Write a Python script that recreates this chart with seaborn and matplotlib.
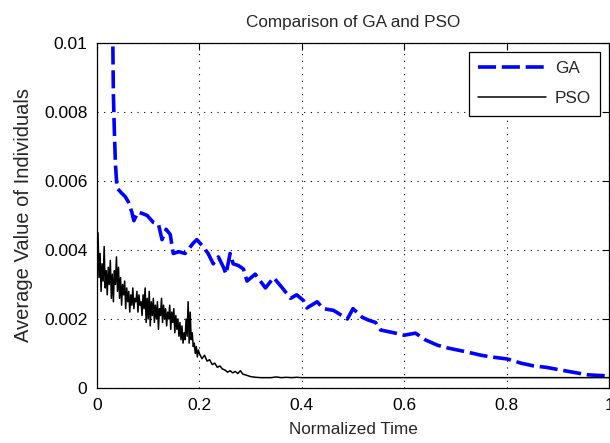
import numpy as np
import pandas as pd
import matplotlib
matplotlib.use("Agg")
import matplotlib.pyplot as plt
import seaborn as sns

# --- DATA (y values in units of 0.001) ---
ga_x = [0.031, 0.032, 0.034, 0.036, 0.039, 0.048, 0.055, 0.061, 0.068, 0.072,
        0.080, 0.090, 0.098, 0.110, 0.120, 0.127, 0.135, 0.143, 0.149, 0.160,
        0.172, 0.188, 0.195, 0.207, 0.217, 0.227, 0.237, 0.247, 0.252, 0.260,
        0.266, 0.276, 0.286, 0.293, 0.309, 0.329, 0.345, 0.362, 0.378, 0.390,
        0.403, 0.410, 0.430, 0.442, 0.462, 0.489, 0.500, 0.518, 0.530, 0.544,
        0.554, 0.580, 0.600, 0.622, 0.642, 0.665, 0.685, 0.724, 0.750, 0.770,
        0.802, 0.828, 0.853, 0.877, 0.906, 0.940, 0.960, 1.000]
ga_y = [9.9, 8.5, 7.4, 6.5, 5.8, 5.65, 5.55, 5.4, 5.1, 4.85,
        5.1, 5.05, 5.0, 4.8, 4.75, 4.3, 4.6, 4.45, 3.9, 3.95,
        3.9, 4.2, 4.3, 4.1, 3.9, 3.6, 3.8, 3.5, 3.3, 3.9,
        3.6, 3.55, 3.45, 3.1, 3.3, 2.9, 3.2, 2.9, 2.6, 2.7,
        2.54, 2.32, 2.5, 2.3, 2.25, 2.0, 2.3, 2.05, 1.97, 1.9,
        1.68, 1.6, 1.53, 1.59, 1.39, 1.24, 1.16, 1.04, 0.95, 0.9,
        0.84, 0.72, 0.64, 0.6, 0.52, 0.43, 0.38, 0.35]

# PSO: noisy part sampled every 0.002 from 0 to 0.2
pso_noisy = [3.0, 4.5, 3.2, 3.9, 2.8, 3.6, 3.1, 4.1, 2.9, 3.4,
             2.7, 3.5, 3.0, 3.7, 2.6, 3.3, 2.5, 3.4, 3.0, 3.8,
             2.8, 3.5, 2.6, 3.2, 2.4, 3.0, 2.7, 3.1, 2.3, 2.9,
             2.5, 2.8, 2.2, 2.7, 2.4, 2.9, 2.3, 2.6, 2.5, 2.8,
             2.2, 2.7, 2.4, 2.5, 2.1, 2.7, 2.3, 2.9, 1.9, 2.6,
             2.0, 2.8, 1.8, 2.5, 2.1, 2.6, 1.9, 2.4, 2.0, 2.5,
             1.7, 2.3, 2.1, 2.6, 1.9, 2.4, 2.0, 2.3, 1.8, 2.2,
             2.0, 2.4, 1.7, 2.2, 1.9, 2.3, 1.6, 2.1, 1.7, 2.0,
             1.5, 1.9, 1.4, 1.8, 1.3, 1.6, 1.4, 2.0, 1.5, 2.5,
             1.3, 2.2, 1.4, 1.6, 1.2, 1.3, 1.0, 1.2, 0.9, 1.1,
             1.0]
pso_tail_x = [0.205, 0.21, 0.215, 0.22, 0.225, 0.23, 0.235, 0.24, 0.245, 0.25,
              0.255, 0.26, 0.265, 0.27, 0.275, 0.28, 0.285, 0.29, 0.30, 0.31,
              0.32, 0.34, 0.35, 0.36, 0.37, 0.38, 0.39, 0.40, 1.00]
pso_tail_y = [0.85, 0.95, 0.78, 0.82, 0.68, 0.72, 0.60, 0.64, 0.55, 0.52,
              0.46, 0.50, 0.44, 0.48, 0.42, 0.50, 0.40, 0.38, 0.33, 0.31,
              0.30, 0.30, 0.32, 0.30, 0.31, 0.30, 0.31, 0.30, 0.30]

x_ticks = [0, 0.2, 0.4, 0.6, 0.8, 1]
x_labels = ["0", "0.2", "0.4", "0.6", "0.8", "1"]
y_ticks = [0, 0.002, 0.004, 0.006, 0.008, 0.01]
y_labels = ["0", "0.002", "0.004", "0.006", "0.008", "0.01"]

pso_x = list(np.linspace(0, 0.2, len(pso_noisy))) + pso_tail_x
pso_y = pso_noisy + pso_tail_y

ga = pd.DataFrame({"t": ga_x, "v": np.array(ga_y) * 1e-3})
pso = pd.DataFrame({"t": pso_x, "v": np.array(pso_y) * 1e-3})

# --- STYLE ---
sns.set_style("white")
plt.rcParams["font.family"] = ["Liberation Sans", "DejaVu Sans"]
fs = 12.3

fig = plt.figure(figsize=(6.1, 4.43), dpi=100)
ax = fig.add_axes([97 / 610, 1 - 388 / 443, 512 / 610, 345 / 443])

sns.lineplot(data=ga, x="t", y="v", ax=ax, sort=False, estimator=None,
             color="#0000ff", lw=2.6, linestyle=(0, (5, 1.6)), label="GA")
sns.lineplot(data=pso, x="t", y="v", ax=ax, sort=False, estimator=None,
             color="black", lw=1.1, label="PSO")

ax.set_xlim(0, 1)
ax.set_ylim(0, 0.01)
ax.set_xticks(x_ticks)
ax.set_xticklabels(x_labels)
ax.set_yticks(y_ticks)
ax.set_yticklabels(y_labels)
ax.tick_params(direction="in", top=True, right=True, length=5, width=0.8,
               labelsize=12.5, colors="black", pad=7)
ax.grid(True, color="black", linestyle=(0, (1, 5)), linewidth=0.8)
for s in ax.spines.values():
    s.set_color("black")
    s.set_linewidth(0.9)

ax.set_title("Comparison of GA and PSO", fontsize=fs, pad=11.5)
ax.set_xlabel("Normalized Time", fontsize=fs, labelpad=7)
ax.set_ylabel("Average Value of Individuals", fontsize=14.5, labelpad=8)

leg = ax.legend(loc="upper right", fontsize=fs, frameon=True, fancybox=False,
                edgecolor="black", framealpha=1, handlelength=4.0,
                handletextpad=0.5, borderpad=0.55, borderaxespad=0.5,
                labelspacing=0.9)
leg.get_frame().set_linewidth(0.9)

fig.savefig("out.png", dpi=100)
